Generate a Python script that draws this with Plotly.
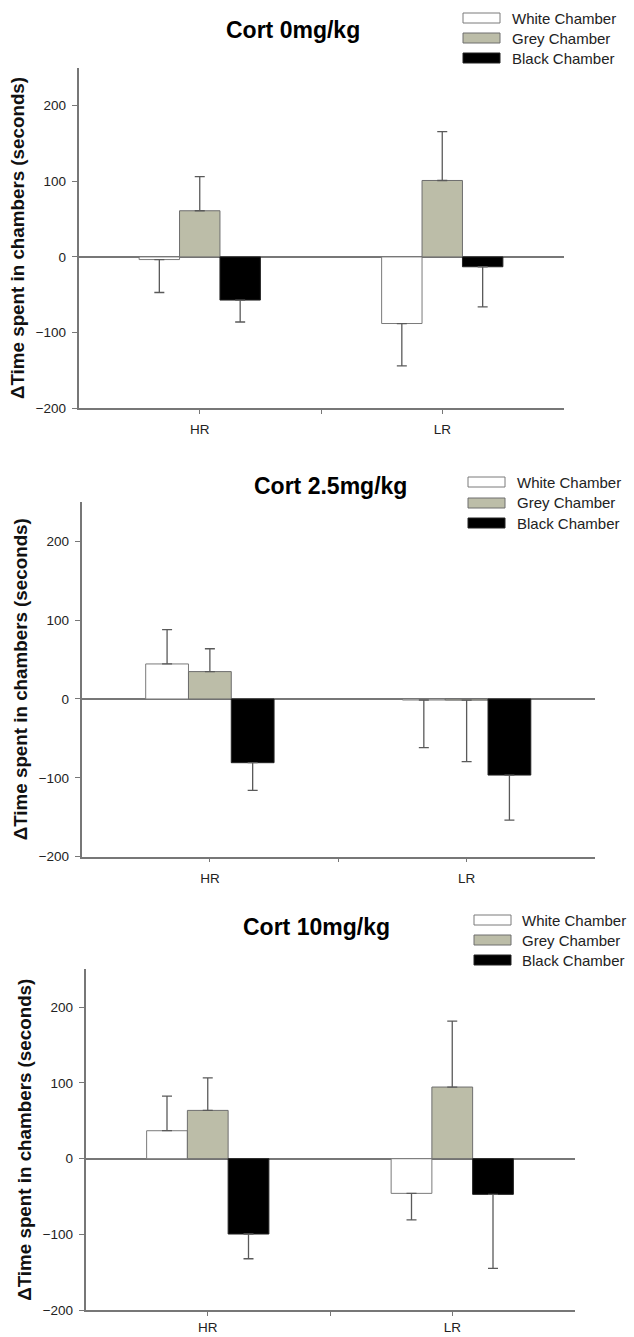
import plotly.graph_objects as go

# ---------------- data ----------------
groups = ["HR", "LR"]
series_names = ["White Chamber", "Grey Chamber", "Black Chamber"]
panel_titles = ["Cort 0mg/kg", "Cort 2.5mg/kg", "Cort 10mg/kg"]
y_title = "ΔTime spent in chambers (seconds)"
y_ticks = [-200, -100, 0, 100, 200]

cort0_white = [-3.5, -88]
cort0_white_err = [43.5, 56]
cort0_grey = [61, 101]
cort0_grey_err = [45, 64.5]
cort0_black = [-57, -13]
cort0_black_err = [29, 53]

cort25_white = [44.4, -1.3]
cort25_white_err = [43.6, 60.5]
cort25_grey = [34.7, -1.5]
cort25_grey_err = [29, 78]
cort25_black = [-80.8, -96.5]
cort25_black_err = [35, 57]

cort10_white = [36.9, -45.7]
cort10_white_err = [45.7, 35]
cort10_grey = [63.7, 94.5]
cort10_grey_err = [43, 87]
cort10_black = [-99.3, -47]
cort10_black_err = [32.6, 97.6]

panels = [
    [(cort0_white, cort0_white_err), (cort0_grey, cort0_grey_err), (cort0_black, cort0_black_err)],
    [(cort25_white, cort25_white_err), (cort25_grey, cort25_grey_err), (cort25_black, cort25_black_err)],
    [(cort10_white, cort10_white_err), (cort10_grey, cort10_grey_err), (cort10_black, cort10_black_err)],
]

# ---------------- styling / layout (pixels) ----------------
W, H = 634, 1337
FONT = "Arial, Liberation Sans, sans-serif"
fills = ["#FFFFFF", "#BCBDA8", "#000000"]
lines = ["#7A7A7A", "#6E6E6E", "#222222"]
axis_col = "#777777"

# per panel: x-domain px, y top/bottom px, title pos, legend swatch-left, text-left, rows
geo = [
    dict(x=(78.5, 563.5), y=(67.7, 408.3), title=(293, 30), sw=463, tx=510, rows=(18, 38, 58), xso=4),
    dict(x=(81.5, 595), y=(501.8, 856.7), title=(330, 486), sw=468, tx=515, rows=(482, 503, 523), xso=4),
    dict(x=(85.5, 574.5), y=(969.1, 1310.4), title=(316, 927), sw=474, tx=520, rows=(920, 940, 960), xso=0),
]

def px(v):
    return v / W

def py(v):
    return 1 - v / H

fig = go.Figure()
shapes = []
annotations = []

x_idx = list(range(len(groups)))

for p, panel in enumerate(panels):
    xa = "x" if p == 0 else f"x{p+1}"
    ya = "y" if p == 0 else f"y{p+1}"
    for s, (vals, errs) in enumerate(panel):
        plus = [e if v >= 0 else 0 for v, e in zip(vals, errs)]
        minus = [0 if v >= 0 else e for v, e in zip(vals, errs)]
        fig.add_trace(go.Bar(
            x=x_idx, y=vals, name=series_names[s], xaxis=xa, yaxis=ya,
            showlegend=False,
            marker=dict(color=fills[s], line=dict(color=lines[s], width=1)),
            error_y=dict(type="data", symmetric=False, array=plus, arrayminus=minus,
                         color="#5A5A5A", thickness=1.3, width=5),
        ))
    g = geo[p]
    axn = "" if p == 0 else str(p + 1)
    fig.layout["xaxis" + axn] = dict(
        domain=[px(g["x"][0]), px(g["x"][1])], anchor=ya, range=[-0.5, 1.5],
        tickvals=[0, 0.5, 1], ticktext=[groups[0], "", groups[1]],
        ticks="outside", ticklen=4, tickwidth=1.2, tickcolor=axis_col,
        showline=True, linecolor=axis_col, linewidth=1.5,
        showgrid=False, zeroline=False, automargin=False,
        tickfont=dict(family=FONT, size=13.5, color="#222222"),
        ticklabelstandoff=g["xso"], fixedrange=True,
    )
    fig.layout["yaxis" + axn] = dict(
        domain=[py(g["y"][1]), py(g["y"][0])], anchor=xa, range=[-200, 250],
        tickvals=y_ticks, ticks="outside", ticklen=5, tickwidth=1.2, tickcolor=axis_col,
        showline=True, linecolor=axis_col, linewidth=1.5,
        showgrid=False, zeroline=True, zerolinecolor=axis_col, zerolinewidth=1.5,
        automargin=False,
        tickfont=dict(family=FONT, size=13.5, color="#222222"),
        ticklabelstandoff=3,
        title=dict(text=y_title, standoff=6,
                   font=dict(family=FONT, size=18.8, color="#111111", weight="bold")),
        fixedrange=True,
    )
    annotations.append(dict(
        text=panel_titles[p], xref="paper", yref="paper",
        x=px(g["title"][0]), y=py(g["title"][1]), xanchor="center", yanchor="middle",
        showarrow=False, font=dict(family=FONT, size=23, color="#000000", weight="bold"),
    ))
    for s, name in enumerate(series_names):
        ry = g["rows"][s]
        shapes.append(dict(
            type="rect", xref="paper", yref="paper",
            x0=px(g["sw"]), x1=px(g["sw"] + 37), y0=py(ry + 5), y1=py(ry - 5),
            fillcolor=fills[s], line=dict(color=lines[s], width=1),
        ))
        annotations.append(dict(
            text=name, xref="paper", yref="paper",
            x=px(g["tx"]), y=py(ry), xanchor="left", yanchor="middle",
            showarrow=False, font=dict(family=FONT, size=15, color="#222222"),
        ))

fig.update_layout(
    width=W, height=H, template="none",
    margin=dict(l=0, r=0, t=0, b=0, pad=0),
    paper_bgcolor="white", plot_bgcolor="white",
    barmode="group", bargap=0.5, bargroupgap=0,
    showlegend=False,
    shapes=shapes, annotations=annotations,
    font=dict(family=FONT),
)

fig.write_html(
    "out.html",
    config={"displayModeBar": False},
    post_script="document.body.style.margin='0';document.body.style.overflow='hidden';",
)
